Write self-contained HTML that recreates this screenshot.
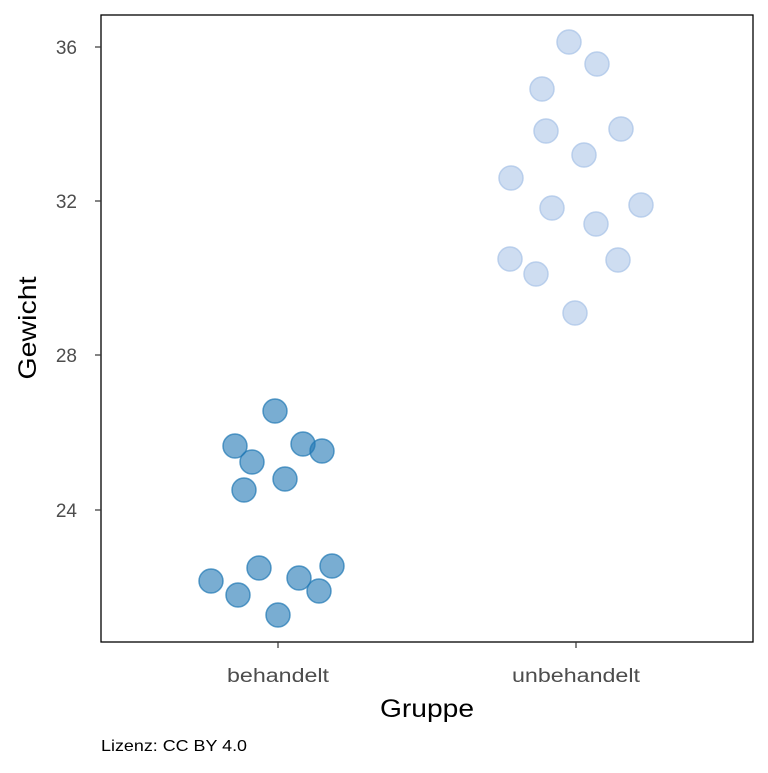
<!DOCTYPE html>
<html><head><style>body{margin:0;background:#fff}</style></head><body>
<svg width="768" height="768" xmlns="http://www.w3.org/2000/svg" font-family="Liberation Sans, Arial, sans-serif">
<rect width="768" height="768" fill="#fff"/>
<g fill="#aec7e8" fill-opacity="0.6" stroke="#aec7e8" stroke-opacity="0.8" stroke-width="1.5">
<circle cx="569" cy="42" r="12"/><circle cx="597" cy="64" r="12"/><circle cx="542" cy="89" r="12"/>
<circle cx="546" cy="131" r="12"/><circle cx="621" cy="129" r="12"/><circle cx="584" cy="155" r="12"/>
<circle cx="511" cy="178" r="12"/><circle cx="552" cy="208" r="12"/><circle cx="596" cy="224" r="12"/>
<circle cx="641" cy="205" r="12"/><circle cx="510" cy="259" r="12"/><circle cx="536" cy="274" r="12"/>
<circle cx="618" cy="260" r="12"/><circle cx="575" cy="313" r="12"/>
</g>
<g fill="#1f77b4" fill-opacity="0.6" stroke="#1f77b4" stroke-opacity="0.7" stroke-width="1.5">
<circle cx="275" cy="411" r="12"/><circle cx="235" cy="446" r="12"/><circle cx="252" cy="462" r="12"/>
<circle cx="303" cy="444" r="12"/><circle cx="322" cy="451" r="12"/><circle cx="285" cy="479" r="12"/>
<circle cx="244" cy="490" r="12"/><circle cx="211" cy="581" r="12"/><circle cx="238" cy="595" r="12"/>
<circle cx="259" cy="568" r="12"/><circle cx="299" cy="578" r="12"/><circle cx="319" cy="591" r="12"/>
<circle cx="332" cy="566" r="12"/><circle cx="278" cy="615" r="12"/>
</g>
<rect x="101" y="15" width="652" height="627" fill="none" stroke="#000" stroke-width="1.3"/>
<g stroke="#333" stroke-width="1.2">
<line x1="95" y1="47" x2="101" y2="47"/><line x1="95" y1="201" x2="101" y2="201"/>
<line x1="95" y1="355" x2="101" y2="355"/><line x1="95" y1="510" x2="101" y2="510"/>
<line x1="278" y1="642" x2="278" y2="648"/><line x1="576" y1="642" x2="576" y2="648"/>
</g>
<g fill="#4d4d4d" font-size="19" text-anchor="end">
<text x="77" y="54">36</text><text x="77" y="208">32</text><text x="77" y="362">28</text><text x="77" y="517">24</text>
</g>
<g fill="#4d4d4d" font-size="19" text-anchor="middle">
<text x="278" y="682" textLength="102" lengthAdjust="spacingAndGlyphs">behandelt</text>
<text x="576" y="682" textLength="128" lengthAdjust="spacingAndGlyphs">unbehandelt</text>
</g>
<text x="427" y="717" font-size="25" text-anchor="middle" textLength="94" lengthAdjust="spacingAndGlyphs">Gruppe</text>
<text transform="translate(36,328) rotate(-90)" font-size="25" text-anchor="middle" textLength="103" lengthAdjust="spacingAndGlyphs">Gewicht</text>
<text x="101" y="751" font-size="16" textLength="146" lengthAdjust="spacingAndGlyphs">Lizenz: CC BY 4.0</text>
</svg>
</body></html>
